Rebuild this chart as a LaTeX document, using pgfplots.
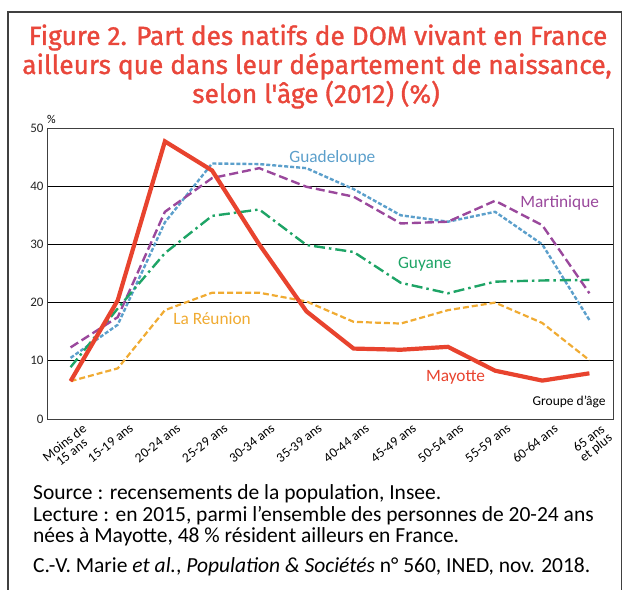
\documentclass[border=0pt]{standalone}
\usepackage{fontspec}
\setmainfont{Carlito}
\newfontfamily\titlefont[FakeBold=1.2]{Fira Sans}
\usepackage{pgfplots}
\pgfplotsset{compat=1.18}
\definecolor{cred}{HTML}{E8432E}
\definecolor{ctitle}{HTML}{E9473B}
\definecolor{cblue}{HTML}{5B9FCB}
\definecolor{cpurple}{HTML}{9A489C}
\definecolor{cgreen}{HTML}{1EA466}
\definecolor{corange}{HTML}{F0AB32}
\definecolor{cframe}{HTML}{404040}
\begin{document}
\begin{tikzpicture}[x=1pt,y=1pt]
\path[use as bounding box] (0pt,0pt) rectangle (623pt,589pt);
\draw[line width=1.3pt, cframe] (8pt,-5pt) -- (8pt,577pt) -- (621.5pt,577pt) -- (621.5pt,-5pt);
\node[font=\titlefont\fontsize{26.3}{29}\selectfont, text=ctitle, anchor=base] at (318pt,544pt) {Figure 2. Part des natifs de DOM vivant en France};
\node[font=\titlefont\fontsize{26.3}{29}\selectfont, text=ctitle, anchor=base] at (317pt,515pt) {ailleurs que dans leur département de naissance,};
\node[font=\titlefont\fontsize{26.3}{29}\selectfont, text=ctitle, anchor=base] at (316pt,486pt) {selon l'âge (2012) (\%)};
\begin{axis}[at={(47pt,170pt)}, anchor=south west, width=566pt, height=291pt, scale only axis,
  xmin=-0.5, xmax=11.5, ymin=0, ymax=50,
  /pgf/number format/assume math mode=true,
  xtick={0,...,11},
  xticklabels={{Moins de\\15 ans},15-19 ans,20-24 ans,25-29 ans,30-34 ans,35-39 ans,40-44 ans,45-49 ans,50-54 ans,55-59 ans,60-64 ans,{65 ans\\et plus}},
  x tick label style={xshift=11pt, yshift=-4pt, rotate=38, anchor=north east, align=center, font=\fontsize{13.5}{11.5}\selectfont, inner sep=0pt},
  major x tick style={draw=none},
  extra x ticks={0.5,1.5,...,10.5},
  extra x tick labels={},
  extra x tick style={major tick length=7pt, tick style={draw=black, line width=0.7pt}, tick align=outside, xtick pos=bottom},
  ytick={0,10,...,50},
  y tick label style={font=\fontsize{13}{13}\selectfont, text=black!85},
  major y tick style={draw=none},
  ymajorgrids, grid style={black, line width=0.8pt},
  axis line style={cframe, line width=1pt},
  clip=false,
]
\addplot[cblue, line width=2.4pt, dash pattern=on 4pt off 2pt] coordinates {(0,10.5)(1,16.2)(2,33.8)(3,43.9)(4,43.8)(5,43.1)(6,39.5)(7,35.0)(8,33.9)(9,35.6)(10,30.0)(11,17.0)};
\addplot[cpurple, line width=2.4pt, dash pattern=on 9pt off 4pt] coordinates {(0,12.3)(1,17.5)(2,35.6)(3,41.4)(4,43.1)(5,39.9)(6,38.2)(7,33.6)(8,33.9)(9,37.5)(10,33.3)(11,21.6)};
\addplot[cgreen, line width=2.4pt, dash pattern=on 11pt off 4pt on 2.5pt off 4pt] coordinates {(0,8.9)(1,19.0)(2,28.5)(3,34.9)(4,36.0)(5,29.9)(6,28.7)(7,23.4)(8,21.6)(9,23.6)(10,23.8)(11,23.9)};
\addplot[corange, line width=2.2pt, dash pattern=on 6pt off 3pt] coordinates {(0,6.5)(1,8.7)(2,18.7)(3,21.7)(4,21.7)(5,20.2)(6,16.7)(7,16.4)(8,18.7)(9,20.0)(10,16.5)(11,10.1)};
\addplot[cred, line width=4.2pt] coordinates {(0,6.5)(1,20.4)(2,47.7)(3,42.7)(4,30.0)(5,18.5)(6,12.1)(7,11.9)(8,12.4)(9,8.3)(10,6.6)(11,7.85)};
\node[text=cblue, font=\fontsize{17.3}{15}\selectfont] at (axis cs:5.55,44.9) {Guadeloupe};
\node[text=cpurple, font=\fontsize{17.3}{15}\selectfont] at (axis cs:10.37,37.2) {Martinique};
\node[text=cgreen, font=\fontsize{17.3}{15}\selectfont] at (axis cs:7.51,26.5) {Guyane};
\node[text=corange, font=\fontsize{17.3}{15}\selectfont] at (axis cs:3.0,17.2) {La Réunion};
\node[text=cred, font=\fontsize{17.3}{15}\selectfont] at (axis cs:8.16,7.1) {Mayotte};
\node[text=black, font=\fontsize{13.5}{11}\selectfont] at (axis cs:10.57,2.9) {Groupe d'âge};
\node[anchor=south west, font=\fontsize{12}{11}\selectfont, inner sep=0pt] at ([yshift=4pt]rel axis cs:0,1) {\%};
\end{axis}
\node[anchor=base west, font=\fontsize{21.5}{21}\selectfont, inner sep=0pt] at (33pt,89pt) {Source : recensements de la population, Insee.};
\node[anchor=base west, font=\fontsize{21.5}{21}\selectfont, inner sep=0pt] at (33pt,68pt) {Lecture : en 2015, parmi l’ensemble des personnes de 20-24 ans};
\node[anchor=base west, font=\fontsize{21.5}{21}\selectfont, inner sep=0pt] at (33pt,47pt) {nées à Mayotte, 48 \% résident ailleurs en France.};
\node[anchor=base west, font=\fontsize{21.5}{21}\selectfont, inner sep=0pt] at (33pt,17pt) {C.-V. Marie \textit{et al.}, \textit{Population \& Sociétés} n° 560, INED, nov. 2018.};
\end{tikzpicture}
\end{document}
